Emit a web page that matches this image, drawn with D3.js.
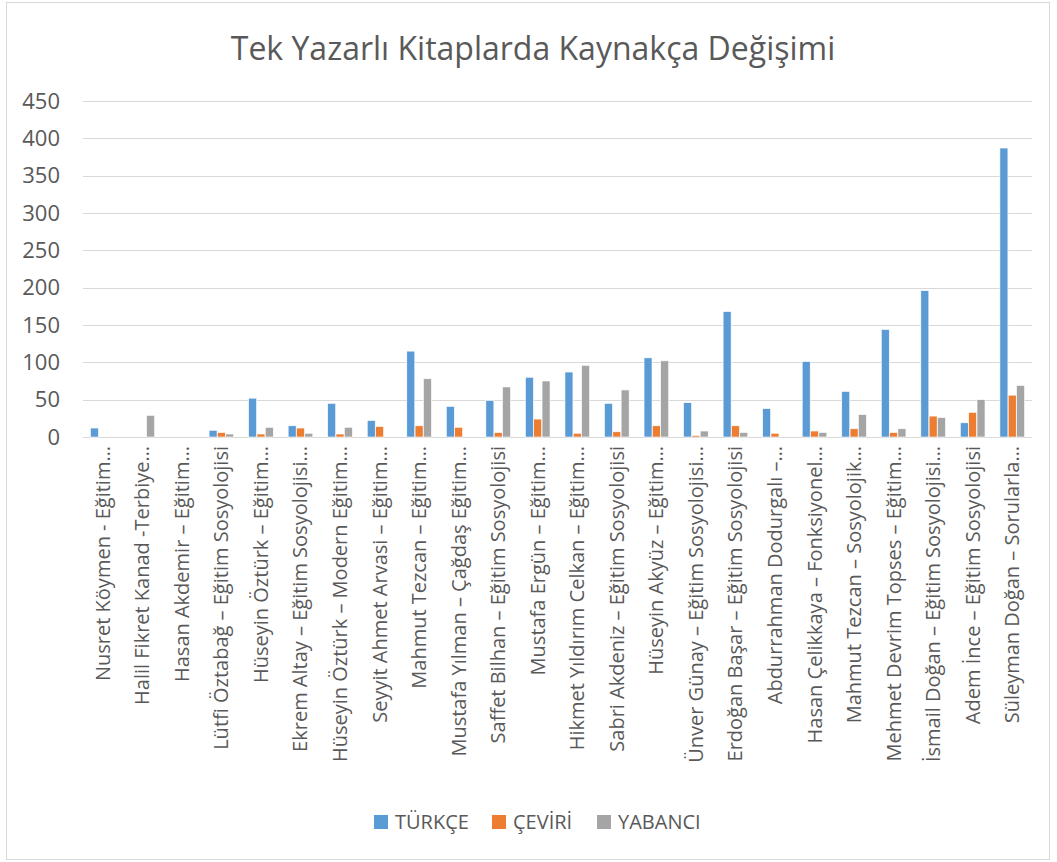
<!DOCTYPE html>
<meta charset="utf-8">
<script src="https://d3js.org/d3.v7.min.js"></script>
<style>
  body { margin: 0; background: #fff; }
  text { font-family: "Open Sans", sans-serif; fill: #595959; }
</style>
<div id="chart"></div>
<script>
    // categories (book titles, as shown truncated on the axis)
    var books = [
        "Nusret Köymen - Eğitim…",
        "Halil Fikret Kanad -Terbiye…",
        "Hasan Akdemir – Eğitim…",
        "Lütfi Öztabağ – Eğitim Sosyolojisi",
        "Hüseyin Öztürk – Eğitim…",
        "Ekrem Altay – Eğitim Sosyolojisi…",
        "Hüseyin Öztürk – Modern Eğitim…",
        "Seyyit Ahmet Arvasi – Eğitim…",
        "Mahmut Tezcan – Eğitim…",
        "Mustafa Yılman – Çağdaş Eğitim…",
        "Saffet Bilhan – Eğitim Sosyolojisi",
        "Mustafa Ergün – Eğitim…",
        "Hikmet Yıldırım Celkan – Eğitim…",
        "Sabri Akdeniz – Eğitim Sosyolojisi",
        "Hüseyin Akyüz – Eğitim…",
        "Ünver Günay – Eğitim Sosyolojisi…",
        "Erdoğan Başar – Eğitim Sosyolojisi",
        "Abdurrahman Dodurgalı –…",
        "Hasan Çelikkaya – Fonksiyonel…",
        "Mahmut Tezcan – Sosyolojik…",
        "Mehmet Devrim Topses – Eğitim…",
        "İsmail Doğan – Eğitim Sosyolojisi…",
        "Adem İnce – Eğitim Sosyolojisi",
        "Süleyman Doğan – Sorularla…"
    ];

    var seriesNames = ["TÜRKÇE", "ÇEVİRİ", "YABANCI"];

    var turkce  = [12, 0, 0, 9, 52, 15, 45, 22, 115, 41, 49, 80, 87, 45, 106, 46, 168, 38, 101, 61, 144, 196, 19, 387];
    var ceviri  = [0, 0, 0, 6, 4, 12, 4, 14, 15, 13, 6, 24, 5, 7, 15, 2, 15, 5, 8, 11, 6, 28, 33, 56];
    var yabanci = [0, 29, 0, 4, 13, 5, 13, 0, 78, 0, 67, 75, 96, 63, 102, 8, 6, 0, 6, 30, 11, 26, 50, 69];

    var yTicks = [0, 50, 100, 150, 200, 250, 300, 350, 400, 450];

    var colors = ["#5B9BD5", "#ED7D31", "#A5A5A5"];

    var data = books.map(function (b, i) {
        return { book: b, values: [turkce[i], ceviri[i], yabanci[i]] };
    });

    var W = 1057, H = 862;
    var margin = {top: 101, right: 25, bottom: 425, left: 83};
    var width = W - margin.left - margin.right,
        height = H - margin.top - margin.bottom;

    var svg = d3.select("#chart")
        .append("svg")
        .attr("width", W)
        .attr("height", H);

    // outer frame
    svg.append("rect")
        .attr("x", 6.5).attr("y", 2.5)
        .attr("width", 1043).attr("height", 857)
        .attr("fill", "#fff")
        .attr("stroke", "#d9d9d9");

    // title
    svg.append("text")
        .attr("x", 533)
        .attr("y", 60)
        .attr("text-anchor", "middle")
        .attr("font-size", "32px")
        .text("Tek Yazarlı Kitaplarda Kaynakça Değişimi");

    var g = svg.append("g")
        .attr("transform", "translate(" + margin.left + "," + margin.top + ")");

    var x0 = d3.scaleBand()
        .domain(books)
        .range([0, width])
        .paddingInner(0.36)
        .paddingOuter(0.18);

    var x1 = d3.scaleBand()
        .domain([0, 1, 2])
        .range([0, x0.bandwidth()])
        .padding(0.04);

    var y = d3.scaleLinear()
        .domain([0, 450])
        .range([height, 0]);

    // gridlines
    g.selectAll(".grid")
        .data(yTicks)
        .enter()
        .append("line")
        .attr("x1", 0)
        .attr("x2", width)
        .attr("y1", function (d) { return Math.round(y(d)) + 0.5; })
        .attr("y2", function (d) { return Math.round(y(d)) + 0.5; })
        .attr("stroke", "#d9d9d9")
        .attr("stroke-width", 1.2);

    // y tick labels
    g.selectAll(".ylab")
        .data(yTicks)
        .enter()
        .append("text")
        .attr("x", -23)
        .attr("y", function (d) { return y(d); })
        .attr("dy", "0.35em")
        .attr("text-anchor", "end")
        .attr("font-size", "22px")
        .text(function (d) { return d; });

    // bars
    var groups = g.selectAll(".grp")
        .data(data)
        .enter()
        .append("g")
        .attr("transform", function (d) { return "translate(" + x0(d.book) + ",0)"; });

    groups.selectAll("rect")
        .data(function (d) { return d.values; })
        .enter()
        .append("rect")
        .attr("x", function (d, i) { return x1(i); })
        .attr("width", x1.bandwidth())
        .attr("y", function (d) { return y(d); })
        .attr("height", function (d) { return height - y(d); })
        .attr("fill", function (d, i) { return colors[i]; })
        .attr("stroke", "#fff")
        .attr("stroke-width", 0.6)
        .style("display", function (d) { return d > 0 ? null : "none"; });

    // category labels
    var step = width / books.length;
    g.selectAll(".xlab")
        .data(books)
        .enter()
        .append("text")
        .attr("transform", function (d, i) {
            var cx = step * (i + 0.5);
            return "translate(" + cx + "," + (height + 9) + ") rotate(-90)";
        })
        .attr("dy", "0.35em")
        .attr("text-anchor", "end")
        .attr("font-size", "20px")
        .text(function (d) { return d; });

    // legend
    var legendX = [374, 492, 597];
    var legend = svg.selectAll(".leg")
        .data(seriesNames)
        .enter()
        .append("g")
        .attr("transform", function (d, i) { return "translate(" + legendX[i] + ",815)"; });

    legend.append("rect")
        .attr("width", 14)
        .attr("height", 14)
        .attr("fill", function (d, i) { return colors[i]; });

    legend.append("text")
        .attr("x", 21)
        .attr("y", 7)
        .attr("dy", "0.35em")
        .attr("font-size", "20px")
        .text(function (d) { return d; });
</script>
